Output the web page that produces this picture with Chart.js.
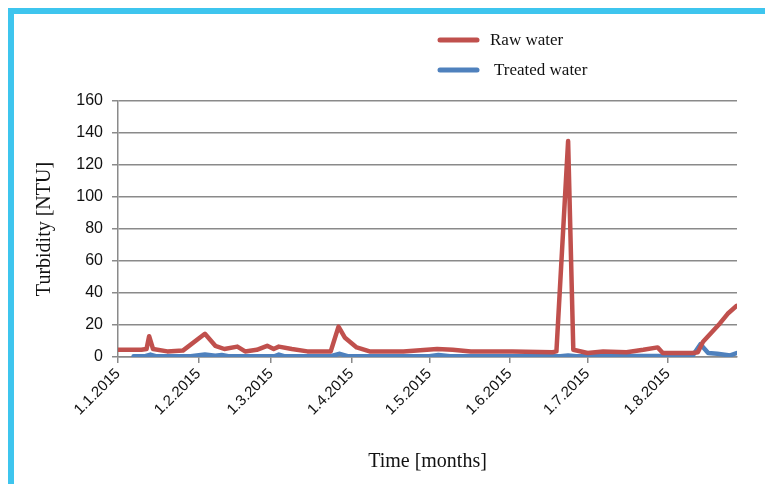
<!DOCTYPE html>
<html>
<head>
<meta charset="utf-8">
<script src="https://cdn.jsdelivr.net/npm/chart.js@4"></script>
<style>
  html, body { margin: 0; padding: 0; background: #fff; }
  #wrap { position: relative; width: 765px; height: 484px; }
  #frame {
    position: absolute; left: 8px; top: 8px; right: -10px; bottom: -10px;
    border-left: 6px solid #3ec5ee; border-top: 6px solid #3ec5ee;
    pointer-events: none;
  }
</style>
</head>
<body>
<div id="wrap">
  <canvas id="turbidityChart" width="765" height="484"></canvas>
  <div id="frame"></div>
</div>
<script>
// month ticks (day of year, Jan 1 = 0)
const monthStartDays = [0, 31, 59, 90, 120, 151, 181, 212];
const monthLabels = ['1.1.2015', '1.2.2015', '1.3.2015', '1.4.2015', '1.5.2015', '1.6.2015', '1.7.2015', '1.8.2015'];
const yTicks = [0, 20, 40, 60, 80, 100, 120, 140, 160];

// Raw water
const rawDays = [0, 9, 11, 12, 13.5, 19, 25, 33.5, 37.5, 41, 46, 49, 53.5, 57.5, 60, 62, 67, 73, 82, 85, 87.5, 92, 97, 110, 123, 129, 136, 152, 167.5, 169, 173.5, 175.5, 181, 187, 196, 202.5, 208, 210, 221.5, 223.5, 225.5, 232, 235, 238.5];
const rawValues = [4.5, 4.5, 5, 13, 5, 3.5, 4, 14.5, 7, 5, 6.5, 3.5, 4.5, 7, 5, 6.5, 5, 3.5, 3.5, 19, 12, 6, 3.5, 3.5, 5, 4.5, 3.5, 3.5, 3, 3.5, 135, 4.5, 2.5, 3.5, 3, 4.5, 6, 2.5, 2.5, 3, 9.5, 21, 27, 32];

// Treated water
const treatedDays = [6, 10.5, 12.5, 14.5, 28, 33.5, 37.5, 40, 42.5, 60.5, 62, 64, 82, 85.5, 88.5, 120, 123.5, 128, 170.5, 173.5, 176.5, 221.5, 224.5, 227.5, 231, 236, 238.5];
const treatedValues = [0.5, 0.5, 1.5, 0.5, 0.5, 1.5, 0.8, 1.2, 0.5, 0.5, 1.5, 0.5, 0.5, 2, 0.5, 0.5, 1.3, 0.5, 0.5, 1, 0.5, 0.8, 8, 2.5, 2, 1, 2.5];

const toPoints = (xs, ys) => xs.map((x, i) => ({ x: x, y: ys[i] }));

const gridColor = '#8a8a8a';
const serif = '"Liberation Serif", "Times New Roman", serif';
const sans = '"Liberation Sans", Arial, sans-serif';

// legend drawn as a vertical list above the plot, like the original
const sideLegend = {
    id: 'sideLegend',
    afterDraw(chart) {
        const ctx = chart.ctx;
        const left = 440, top = 40, rowGap = 30;
        ctx.save();
        chart.data.datasets.forEach((ds, i) => {
            const y = top + i * rowGap;
            ctx.strokeStyle = ds.borderColor;
            ctx.lineWidth = 5;
            ctx.lineCap = 'round';
            ctx.beginPath();
            ctx.moveTo(left, y);
            ctx.lineTo(left + 37, y);
            ctx.stroke();
            ctx.fillStyle = '#111';
            ctx.font = '17px ' + serif;
            ctx.textBaseline = 'middle';
            ctx.fillText(ds.label, left + 50 + i * 4, y + 1);
        });
        ctx.restore();
    }
};

const ctx = document.getElementById('turbidityChart').getContext('2d');
const turbidityChart = new Chart(ctx, {
    type: 'line',
    data: {
        datasets: [{
            label: 'Raw water',
            data: toPoints(rawDays, rawValues),
            borderColor: '#c0504d',
            borderWidth: 4.5,
            borderJoinStyle: 'round',
            borderCapStyle: 'round',
            pointRadius: 0,
            tension: 0,
            fill: false
        }, {
            label: 'Treated water',
            data: toPoints(treatedDays, treatedValues),
            borderColor: '#4f81bd',
            borderWidth: 4.5,
            borderJoinStyle: 'round',
            borderCapStyle: 'round',
            pointRadius: 0,
            tension: 0,
            fill: false
        }]
    },
    options: {
        responsive: false,
        animation: false,
        layout: {
            padding: { top: 101, right: 28, left: 0, bottom: 0 }
        },
        plugins: {
            legend: { display: false },
            tooltip: { enabled: false }
        },
        scales: {
            x: {
                type: 'linear',
                min: 0,
                max: 238.6,
                afterBuildTicks: function (scale) {
                    scale.ticks = monthStartDays.map(v => ({ value: v }));
                },
                afterFit: function (scale) {
                    scale.height = 127;
                },
                grid: {
                    drawOnChartArea: false,
                    drawTicks: true,
                    tickLength: 6,
                    color: gridColor,
                    lineWidth: 1.5
                },
                border: { color: gridColor, width: 1.5 },
                ticks: {
                    autoSkip: false,
                    minRotation: 45,
                    maxRotation: 45,
                    padding: 2,
                    color: '#111',
                    font: { family: sans, size: 15 },
                    callback: function (value, index) {
                        return monthLabels[index];
                    }
                },
                title: {
                    display: true,
                    text: 'Time [months]',
                    color: '#111',
                    font: { family: serif, size: 20 },
                    padding: { top: 4, bottom: 10 }
                }
            },
            y: {
                min: 0,
                max: 160,
                afterBuildTicks: function (scale) {
                    scale.ticks = yTicks.map(v => ({ value: v }));
                },
                afterFit: function (scale) {
                    scale.width = 118;
                },
                grid: {
                    color: gridColor,
                    lineWidth: 1.5,
                    tickLength: 6
                },
                border: { color: gridColor, width: 1.5 },
                ticks: {
                    padding: 9,
                    color: '#111',
                    font: { family: sans, size: 16 }
                },
                title: {
                    display: true,
                    text: 'Turbidity [NTU]',
                    color: '#111',
                    font: { family: serif, size: 20 },
                    padding: { top: 33, bottom: 4 }
                }
            }
        }
    },
    plugins: [sideLegend]
});
</script>
</body>
</html>
